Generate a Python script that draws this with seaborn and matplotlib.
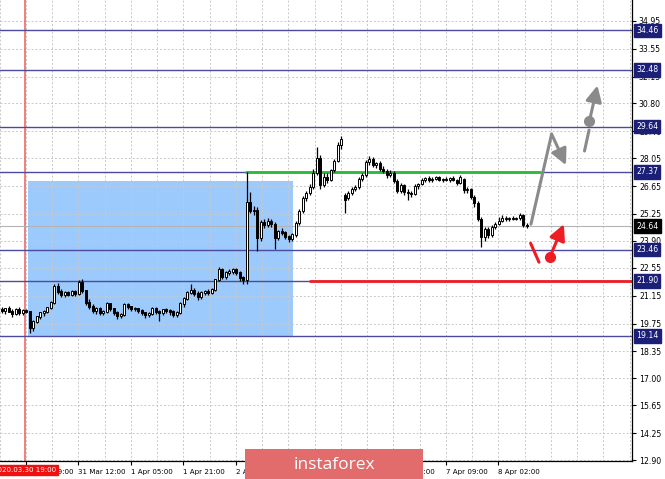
import numpy as np
import matplotlib
matplotlib.use("Agg")
import matplotlib.pyplot as plt
from matplotlib.patches import Rectangle, FancyBboxPatch
import seaborn as sns

# hourly candles left to right
opens = [20.45, 20.40, 20.50, 20.35, 20.25, 20.45, 20.30, 20.40, 20.35, 19.55,
         19.85, 20.10, 20.30, 20.35, 20.55, 20.80, 21.60, 21.35, 21.20, 21.30,
         21.20, 21.35, 21.25, 21.80, 21.40, 20.80, 20.60, 20.40, 20.50, 20.30,
         20.35, 20.75, 20.50, 20.30, 20.15, 20.20, 20.70, 20.60, 20.50, 20.50,
         20.40, 20.30, 20.20, 20.25, 20.50, 20.35, 20.30, 20.45, 20.40, 20.35,
         20.20, 20.30, 20.75, 21.00, 21.30, 21.40, 21.25, 21.10, 21.30, 21.35,
         21.30, 21.45, 21.95, 22.45, 22.10, 22.30, 22.35, 22.45, 22.30, 22.05,
         21.95, 25.85, 25.40, 25.45, 24.05, 24.85, 24.70, 24.90, 24.75, 24.05,
         24.35, 24.30, 24.10, 24.00, 24.20, 24.80, 25.40, 26.05, 26.30, 26.60,
         27.30, 28.05, 26.70, 27.10, 26.95, 27.45, 27.90, 28.70, 26.20, 26.05,
         26.30, 26.50, 26.60, 27.00, 27.20, 27.85, 28.00, 27.70, 27.80, 27.50,
         27.40, 27.20, 27.30, 26.90, 26.40, 26.70, 26.35, 26.30, 26.25, 26.65,
         26.75, 26.95, 27.05, 26.95, 27.00, 27.10, 26.95, 27.00, 26.95, 27.05,
         26.95, 26.80, 27.00, 26.45, 26.50, 26.10, 25.80, 25.00, 24.10, 24.50,
         24.20, 24.60, 24.75, 24.90, 25.05, 25.00, 25.05, 25.00, 25.05, 25.20,
         24.70]
highs = [20.60, 20.55, 20.65, 20.50, 20.55, 20.60, 20.50, 20.50, 20.40, 19.95,
         20.15, 20.35, 20.45, 20.60, 20.90, 21.75, 21.80, 21.50, 21.40, 21.40,
         21.45, 21.45, 21.95, 22.00, 21.45, 21.00, 20.75, 20.60, 20.60, 20.45,
         20.85, 20.80, 20.55, 20.40, 20.30, 20.80, 20.80, 20.65, 20.60, 20.55,
         20.50, 20.35, 20.35, 20.60, 20.60, 20.45, 20.50, 20.55, 20.50, 20.45,
         20.40, 20.85, 21.10, 21.40, 21.75, 21.55, 21.40, 21.40, 21.45, 21.50,
         21.55, 22.00, 22.60, 22.55, 22.40, 22.50, 22.55, 22.55, 22.40, 22.15,
         27.37, 26.35, 25.65, 25.60, 24.95, 25.00, 25.05, 25.00, 24.85, 24.45,
         24.55, 24.40, 24.20, 24.30, 24.90, 25.50, 26.15, 26.40, 26.75, 27.50,
         28.60, 28.20, 27.30, 27.30, 27.50, 28.00, 28.85, 29.15, 26.30, 26.40,
         26.60, 26.70, 27.10, 27.30, 27.95, 28.15, 28.10, 27.85, 27.90, 27.65,
         27.50, 27.45, 27.40, 27.00, 26.80, 26.75, 26.50, 26.40, 26.75, 26.80,
         27.05, 27.10, 27.15, 27.10, 27.15, 27.15, 27.05, 27.10, 27.10, 27.15,
         27.00, 27.20, 27.05, 26.60, 26.55, 26.20, 25.90, 25.10, 24.60, 24.60,
         24.70, 24.85, 25.10, 25.20, 25.15, 25.10, 25.15, 25.10, 25.30, 25.25,
         24.80]
lows = [20.30, 20.25, 20.35, 20.10, 20.20, 20.20, 20.20, 20.30, 19.25, 19.40,
        19.80, 20.00, 20.15, 20.30, 20.50, 20.75, 21.25, 21.10, 21.10, 21.15,
        21.15, 21.15, 21.20, 21.30, 20.70, 20.50, 20.30, 20.25, 20.20, 20.20,
        20.30, 20.40, 20.20, 20.00, 20.05, 20.15, 20.50, 20.40, 20.40, 20.30,
        20.20, 20.05, 20.10, 20.20, 20.25, 19.90, 20.20, 20.30, 20.20, 20.10,
        20.10, 20.25, 20.60, 20.95, 21.25, 21.15, 20.95, 21.00, 21.20, 21.20,
        21.25, 21.40, 21.90, 22.00, 22.00, 22.20, 22.25, 22.20, 21.90, 21.75,
        21.75, 25.30, 25.20, 23.40, 23.90, 24.55, 24.60, 24.60, 23.50, 23.95,
        24.20, 24.00, 23.85, 23.90, 24.10, 24.70, 25.30, 25.90, 26.20, 26.50,
        27.20, 26.50, 26.60, 26.80, 26.90, 27.35, 27.85, 28.50, 25.30, 25.95,
        26.20, 26.40, 26.50, 26.90, 27.10, 27.70, 27.60, 27.55, 27.40, 27.30,
        27.05, 27.10, 26.80, 26.30, 26.30, 26.20, 25.95, 26.10, 26.20, 26.50,
        26.70, 26.85, 26.85, 26.85, 26.95, 26.90, 26.85, 26.90, 26.85, 26.90,
        26.70, 26.75, 26.30, 26.30, 26.00, 25.60, 24.90, 23.60, 23.90, 24.05,
        24.10, 24.50, 24.70, 24.85, 24.90, 24.90, 24.95, 24.95, 24.95, 24.60,
        24.55]
closes = [20.40, 20.50, 20.35, 20.25, 20.45, 20.30, 20.40, 20.35, 19.55, 19.85,
          20.10, 20.30, 20.35, 20.55, 20.80, 21.60, 21.35, 21.20, 21.30, 21.20,
          21.35, 21.25, 21.80, 21.40, 20.80, 20.60, 20.40, 20.50, 20.30, 20.35,
          20.75, 20.50, 20.30, 20.15, 20.20, 20.70, 20.60, 20.50, 20.50, 20.40,
          20.30, 20.20, 20.25, 20.50, 20.35, 20.30, 20.45, 20.40, 20.35, 20.20,
          20.30, 20.75, 21.00, 21.30, 21.40, 21.25, 21.10, 21.30, 21.35, 21.30,
          21.45, 21.95, 22.45, 22.10, 22.30, 22.35, 22.45, 22.30, 22.05, 21.95,
          25.85, 25.40, 25.45, 24.05, 24.85, 24.70, 24.90, 24.75, 24.05, 24.35,
          24.30, 24.10, 24.00, 24.20, 24.80, 25.40, 26.05, 26.30, 26.60, 27.30,
          28.05, 26.70, 27.10, 26.95, 27.45, 27.90, 28.70, 29.00, 25.95, 26.30,
          26.50, 26.60, 27.00, 27.20, 27.85, 28.00, 27.70, 27.80, 27.50, 27.40,
          27.20, 27.30, 26.90, 26.40, 26.70, 26.35, 26.30, 26.25, 26.65, 26.75,
          26.95, 27.05, 26.95, 27.00, 27.10, 26.95, 27.00, 26.95, 27.05, 26.95,
          26.80, 27.10, 26.45, 26.50, 26.10, 25.80, 25.00, 24.10, 24.50, 24.20,
          24.60, 24.75, 24.90, 25.05, 25.00, 25.05, 25.00, 25.05, 25.20, 24.70,
          24.64]

price_ticks = [34.95, 33.55, 32.15, 30.80, 29.40, 28.05, 26.65, 25.25, 23.90,
               22.55, 21.15, 19.75, 18.35, 17.00, 15.65, 14.25, 12.90]
level_prices = [34.46, 32.48, 29.64, 27.37, 23.46, 21.90, 19.14]
current_price = 24.64
# labels fully under the watermark are left blank
time_labels = ["30 Mar 19:00", "31 Mar 12:00", "1 Apr 05:00", "1 Apr 21:00",
               "2 Apr 14:00", "", "", "6 Apr 16:00",
               "7 Apr 09:00", "8 Apr 02:00"]
marked_label = "2020.03.30 19:00"

# zones and forecast sketch (bar index, price)
zone_x = [7.4, 83.2]
zone_y = [19.14, 26.90]
green_seg = ([69.8, 153.8], [27.37, 27.37])
red_seg = ([88.1, 180.1], [21.90, 21.90])
gray_up = ([151.2, 157.1], [24.74, 29.26])
gray_up_arrow = ((157.1, 29.26), (161.2, 27.70))
gray_dash = ([166.5, 167.8], [28.41, 29.46])
gray_dot = (167.9, 29.91)
gray_dot_arrow = ((167.9, 29.91), (170.2, 31.70))
red_dash = ([151.1, 153.5], [23.78, 22.83])
red_dot = (156.6, 23.09)
red_dot_arrow = ((156.6, 23.09), (160.6, 24.74))

sns.set_theme(style="white")
plt.rcParams["font.family"] = ["DejaVu Sans"]

W, H = 665, 479
fs = 5.6
fs_x = 5.1
fig = plt.figure(figsize=(W / 100, H / 100), dpi=100)
ax = fig.add_axes([0, (H - 461) / H, 632 / W, 461 / H])

n = len(closes)
x = np.arange(n)
o = np.array(opens)
c = np.array(closes)

ax.set_xlim(-0.5, 180.07)
ax.set_ylim(12.85, 35.99)

ax.add_patch(Rectangle((zone_x[0], zone_y[0]), zone_x[1] - zone_x[0],
                       zone_y[1] - zone_y[0], color="#9dcafc", zorder=0.5, lw=0))

# grid
for gx in np.arange(-0.64, 180, 7.5):
    ax.axvline(gx, color="#c8c8c8", lw=0.7, ls=(0, (2, 2)), zorder=1)
for gy in price_ticks:
    ax.axhline(gy, color="#c8c8c8", lw=0.7, ls=(0, (2, 2)), zorder=1)

ax.axvline(6.64, color="#f06a6a", lw=1.2, zorder=1.5)
for lv in level_prices:
    ax.axhline(lv, color="#4a4a9e", lw=1.0, zorder=2)
ax.axhline(current_price, color="#b4b4b4", lw=0.8, zorder=1.8)

sns.lineplot(x=green_seg[0], y=green_seg[1], ax=ax, color="#2cb83a", lw=2, zorder=2.5)
sns.lineplot(x=red_seg[0], y=red_seg[1], ax=ax, color="#ee1d23", lw=2, zorder=2.5)

# candles
ax.vlines(x, lows, highs, color="black", lw=0.9, zorder=3)
bull = c >= o
ax.bar(x, np.abs(c - o) + 0.02, bottom=np.minimum(o, c), width=0.7,
       color=np.where(bull, "white", "black"), edgecolor="black", lw=0.7, zorder=4)

# forecast arrows
gray = "#8a8a8a"
red = "#ee1d23"
sns.lineplot(x=gray_up[0], y=gray_up[1], ax=ax, color=gray, lw=2.2, sort=False, zorder=5)
sns.lineplot(x=gray_dash[0], y=gray_dash[1], ax=ax, color=gray, lw=2.2, sort=False, zorder=5)
sns.lineplot(x=red_dash[0], y=red_dash[1], ax=ax, color=red, lw=2.2, sort=False, zorder=5)
for (start, end), col in [(gray_up_arrow, gray), (gray_dot_arrow, gray), (red_dot_arrow, red)]:
    ax.annotate("", xy=end, xytext=start, zorder=5,
                arrowprops=dict(arrowstyle="-|>,head_length=0.8,head_width=0.4",
                                color=col, lw=2.2, shrinkA=0, shrinkB=0))
ax.plot(*gray_dot, "o", color=gray, ms=7, zorder=6)
ax.plot(*red_dot, "o", color=red, ms=7, zorder=6)

# axes styling
for s in ["top", "left"]:
    ax.spines[s].set_visible(False)
for s in ["bottom", "right"]:
    ax.spines[s].set_color("black")
    ax.spines[s].set_linewidth(0.9)
ax.yaxis.tick_right()
ax.set_yticks(price_ticks)
ax.set_yticklabels([f"{p:.2f}" for p in price_ticks])
ax.tick_params(axis="y", direction="out", length=3, width=0.8, color="black",
               labelsize=fs, pad=2, labelcolor="black", right=True, left=False)
ax.set_xticks(6.86 + 15 * np.arange(len(time_labels)))
ax.set_xticklabels(time_labels)
ax.tick_params(axis="x", direction="out", length=3, width=0.8, color="black",
               labelsize=fs_x, pad=2.5, labelcolor="black", bottom=True)
for lab in ax.get_xticklabels():
    lab.set_horizontalalignment("left")
ax.set_xlabel("")
ax.set_ylabel("")


# price tags on the right scale
def tag(price, text, bg):
    yp = ax.transData.transform((0, price))[1] / H
    fig.text(636 / W, yp, text, fontsize=fs, color="white", va="center", ha="left",
             bbox=dict(boxstyle="square,pad=0.3", fc=bg, ec=bg))


for lv in level_prices:
    tag(lv, f"{lv:.2f}", "#1b1f78")
tag(current_price, f"{current_price:.2f}", "black")

fig.text(56 / W, 1 - 470 / H, marked_label, fontsize=fs_x, color="white",
         ha="right", va="center",
         bbox=dict(boxstyle="square,pad=0.35", fc="#f01010", ec="#f01010"))

# watermark
fig.patches.append(FancyBboxPatch((245 / W, -0.02), 178 / W, (479 - 449) / H + 0.02,
                                  boxstyle="square,pad=0", transform=fig.transFigure,
                                  fc="#e26b6b", ec="none", zorder=10))
fig.text(334 / W, 1 - 465 / H, "instaforex", fontsize=12.5, color="white",
         ha="center", va="center", family=["Open Sans", "DejaVu Sans"], zorder=11)

fig.savefig("out.png", dpi=100)
